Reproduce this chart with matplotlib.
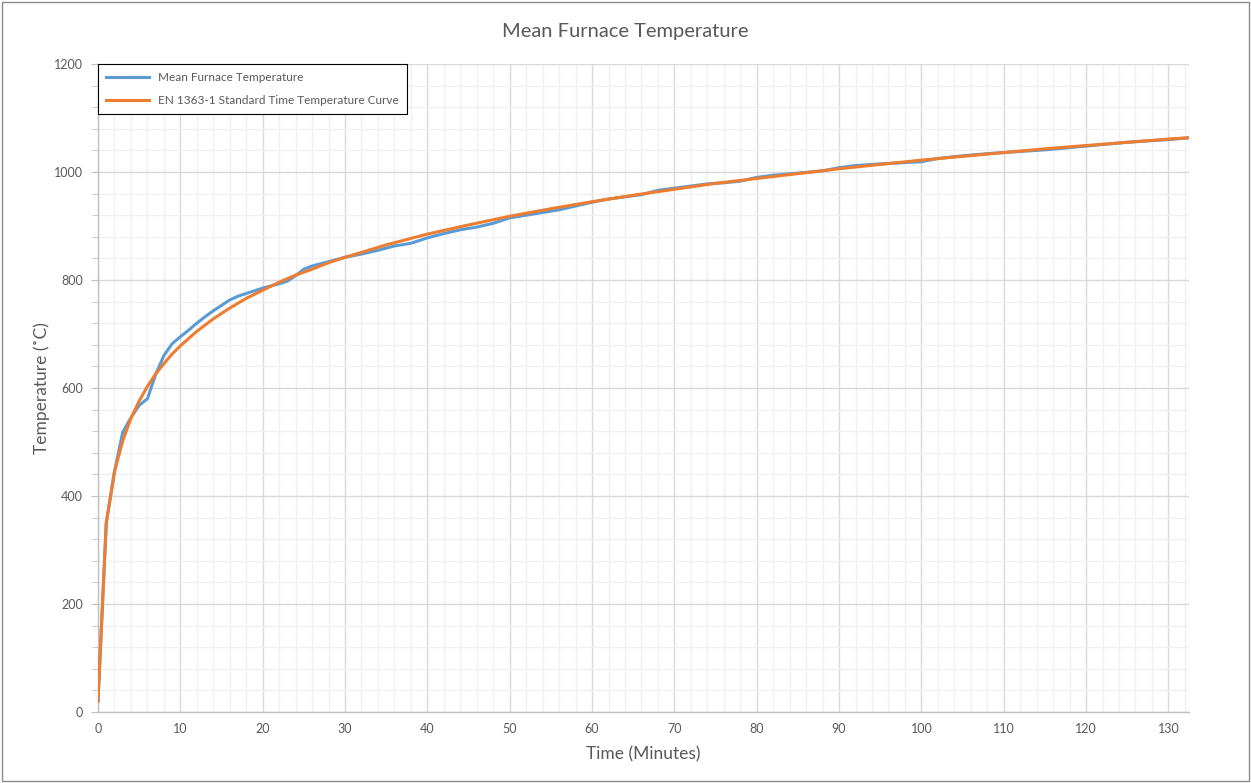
import matplotlib
matplotlib.use("Agg")
import matplotlib.pyplot as plt
from matplotlib.ticker import MultipleLocator
from matplotlib.patches import Rectangle

plt.rcParams['font.family'] = ['Lato', 'DejaVu Sans']

# Mean furnace temperature
mean_t = [0, 1, 2, 3, 4, 5, 6, 7, 8, 9, 10, 11, 12, 13, 14, 15, 16, 17, 18, 19, 20,
          22, 23, 24, 25, 26, 28, 30, 32, 34, 36, 38, 40, 42, 44, 46, 48, 50, 52, 54,
          56, 58, 60, 62, 64, 66, 68, 70, 72, 74, 76, 78, 80, 82, 85, 88, 90, 92, 95,
          100, 102, 105, 108, 110, 115, 120, 125, 130, 133]
mean_temp = [20, 350, 445, 518, 545, 568, 580, 625, 660, 682, 695, 707, 720, 732, 743, 753,
             763, 770, 775, 780, 785, 793, 798, 808, 820, 826, 834, 842, 848, 855, 863, 868,
             878, 886, 893, 898, 905, 915, 920, 925, 930, 937, 944, 950, 954, 958, 966, 970,
             974, 978, 980, 983, 990, 994, 998, 1002, 1008, 1012, 1015, 1019, 1025, 1030,
             1034, 1036, 1041, 1048, 1055, 1060, 1064]

# EN 1363-1 standard time temperature curve
std_t = [0, 1, 2, 3, 4, 5, 6, 7, 8, 9, 10, 12, 14, 16, 18, 20, 22, 24, 26, 28, 30,
         35, 40, 45, 50, 55, 60, 65, 70, 75, 80, 85, 90, 95, 100, 105, 110, 115, 120,
         125, 130, 133]
std_temp = [20, 349, 445, 502, 544, 576, 603, 626, 645, 663, 678, 705, 728, 748, 766, 781,
            796, 809, 820, 832, 842, 865, 885, 902, 918, 932, 945, 957, 968, 979, 988, 997,
            1006, 1014, 1022, 1029, 1036, 1043, 1049, 1055, 1061, 1064]

W, H = 1251, 783
fig = plt.figure(figsize=(W / 100, H / 100), dpi=100)
ax = fig.add_axes([98 / W, 1 - 712 / H, (1189 - 98) / W, (712 - 64) / H])

ax.plot(mean_t, mean_temp, color='#5B9BD5', lw=2.2, label='Mean Furnace Temperature', zorder=3)
ax.plot(std_t, std_temp, color='#ED7D31', lw=2.2, label='EN 1363-1 Standard Time Temperature Curve', zorder=4)

ax.set_xlim(0, 132.5)
ax.set_ylim(0, 1200)
ax.xaxis.set_major_locator(MultipleLocator(10))
ax.xaxis.set_minor_locator(MultipleLocator(2))
ax.yaxis.set_major_locator(MultipleLocator(200))
ax.yaxis.set_minor_locator(MultipleLocator(40))

ax.grid(which='major', color='#d9d9d9', lw=1.0)
ax.grid(which='minor', color='#f0f0f0', lw=1.0)
ax.set_axisbelow(True)

for s in ['top', 'right']:
    ax.spines[s].set_visible(False)
for s in ['left', 'bottom']:
    ax.spines[s].set_color('#bfbfbf')
    ax.spines[s].set_linewidth(1.0)

ax.tick_params(axis='x', which='both', length=0, labelsize=9, colors='#595959', pad=8)
ax.tick_params(axis='y', which='major', length=5, color='#bfbfbf', labelsize=9,
               labelcolor='#595959', pad=6)
ax.tick_params(axis='y', which='minor', length=4, color='#bfbfbf')

ax.set_xlabel('Time (Minutes)', fontsize=12.5, color='#595959', labelpad=8)
ax.set_ylabel('Temperature (˚C)', fontsize=12.5, color='#595959', labelpad=3)
fig.text(0.5, 1 - 32 / H, 'Mean Furnace Temperature', ha='center', va='center',
         fontsize=14.5, color='#595959')

leg = ax.legend(loc='upper left', borderaxespad=0, fancybox=False, fontsize=8.5,
                edgecolor='#000000', framealpha=1, handlelength=3.6, labelspacing=1.0,
                borderpad=0.7)
leg.get_frame().set_linewidth(0.8)
for t in leg.get_texts():
    t.set_color('#595959')

fig.patches.append(Rectangle((2 / W, 2 / H), 1 - 4 / W, 1 - 4 / H, transform=fig.transFigure,
                             fill=False, edgecolor='#8c8c8c', lw=1))

fig.savefig('out.png', dpi=100)
